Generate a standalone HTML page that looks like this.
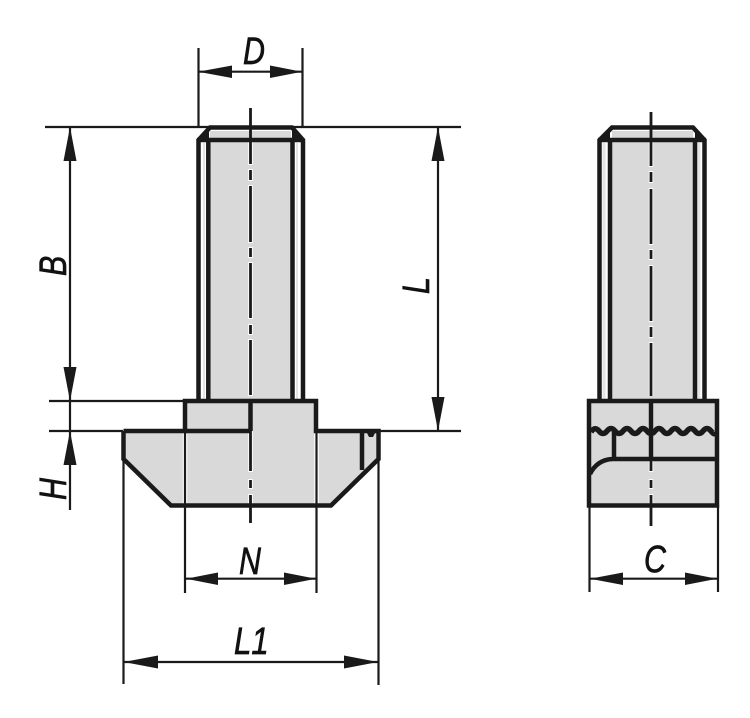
<!DOCTYPE html>
<html><head><meta charset="utf-8"><style>
html,body{margin:0;padding:0;background:#fff}
svg{display:block}
text{font-family:"Liberation Sans",sans-serif;font-style:italic;font-size:38px;fill:#111;stroke:#111;stroke-width:.7px}
</style></head><body>
<svg width="750" height="718" viewBox="0 0 750 718" xmlns="http://www.w3.org/2000/svg">
<!-- fills -->
<g fill="#d9d9d9">
<rect x="210" y="131" width="81" height="7"/>
<rect x="210" y="142" width="81" height="257"/>
<rect x="612" y="131" width="81" height="7"/>
<rect x="612" y="142" width="81" height="257"/>
<polygon points="125,430 376,430 376,459 330,504 172,504 125,459"/>
<rect x="187" y="403" width="128" height="28"/>
<rect x="590" y="403" width="126" height="101"/>
</g>
<g fill="#e4e4e4">
<rect x="203" y="143" width="2" height="256"/>
<rect x="296" y="143" width="2" height="256"/>
<rect x="697.500" y="143" width="3" height="256"/>
<rect x="602.500" y="143" width="3" height="256"/>
</g>
<!-- white halos -->
<g fill="none" stroke="#fff" stroke-width="4.500">
<path d="M185 431V505M316.500 431V505"/>
<path d="M250.500 431V472M250.500 479V489M250.500 494V505"/>
<path d="M651 403V472M651 479V489M651 494V505"/>
<path d="M250.500 142V165M250.500 169V181M250.500 185V243M250.500 247V258M250.500 262V319M250.500 324V335M250.500 339V396"/>
<path d="M651 142V167M651 171V183M651 188V245M651 249V260M651 265V322M651 326V338M651 342V396"/>
</g>
<g fill="none" stroke="#1a1a1a" stroke-linejoin="miter">
<!-- thin dimension lines -->
<g stroke-width="2.200">
<path d="M45 127H461M49 401H186M49 431H123M378 431H461"/>
<path d="M198.500 48V127M302.500 48V127"/>
<path d="M70 127V510M438 127V431"/>
<path d="M198 71.700H302M186 578.700H316M124 662H378M590 578.700H717"/>
<path d="M123.500 459V684M378.500 459V685M185 505V593M316.500 505V593M589.500 505V592M718 505V592"/>
<path d="M185 431V505M316.500 431V505"/>
</g>
<!-- center lines -->
<g stroke-width="2.800">
<path d="M250.500 108V164M250.500 170V180M250.500 186V242M250.500 248V257M250.500 263V318M250.500 325V334M250.500 340V395"/>
<path d="M250.500 431V471M250.500 480V488M250.500 495V523"/>
<path d="M651 112V166M651 172V182M651 189V244M651 250V259M651 266V321M651 327V337M651 343V396"/>
<path d="M651 459V471M651 480V488M651 495V526"/>
</g>
<!-- left view -->
<g stroke-width="4.500">
<path d="M198.500 399V140L210 127.500H292L303 140V399M197 140H304M208.300 140V399M292.500 140V399"/>
<path d="M123.500 431V459L171 505.500H331L378.500 459V431H316V401H185V431H123.500"/>
<path d="M185 431H251M250.500 401V431M362 431V470"/>
</g>
<!-- right view -->
<g stroke-width="4.500">
<path d="M599.500 399V140L612 127.500H693L704.500 140V399M598 140H706M610 140V399M695 140V399"/>
<rect x="589" y="401" width="128" height="104.500"/>
<path d="M651 401V459M614 432V459M717 459H612Q597 460 590 474"/>
<path stroke-width="5.500" d="M591 432Q595 426 599 431T607 431T615 431T623 431T631 431T639 431T647 431T655 431T663 431T671 431T679 431T687 431T695 431T703 431T711 431T716 432"/>
</g>
</g>
<!-- corners and arrowheads -->
<g fill="#1a1a1a">
<polygon points="200,140 209,130 209,140"/>
<polygon points="302,140 292,130 292,140"/>
<polygon points="601,140 610,131 610,140"/>
<polygon points="703,140 695,131 695,140"/>
<polygon points="366,431 376,431 373,437 369,437"/>
<polygon points="198,71.700 232,65.500 232,78"/>
<polygon points="302,71.700 270,65.500 270,78"/>
<polygon points="70,127 63.500,161 76.500,161"/>
<polygon points="70,401 63.500,367 76.500,367"/>
<polygon points="70,431 63.500,465 76.500,465"/>
<polygon points="438,127 431.500,161 444.500,161"/>
<polygon points="438,431 431.500,397 444.500,397"/>
<polygon points="186,578.700 218,572.500 218,585"/>
<polygon points="316,578.700 284,572.500 284,585"/>
<polygon points="124,662 158,655.500 158,668.500"/>
<polygon points="378,662 344,655.500 344,668.500"/>
<polygon points="590,578.700 623,572.500 623,585"/>
<polygon points="717,578.700 685,572.500 685,585"/>
</g>
<!-- labels -->
<text transform="translate(243,64) scale(.8,1)">D</text>
<text transform="translate(239,574) scale(.8,1)">N</text>
<text transform="translate(234,654) scale(.82,1)">L1</text>
<text transform="translate(644,572) scale(.8,1)">C</text>
<text transform="translate(66,276) rotate(-90) scale(.8,1)">B</text>
<text transform="translate(66,500) rotate(-90) scale(.8,1)">H</text>
<text transform="translate(429,294) rotate(-90) scale(.8,1)">L</text>
</svg>
</body></html>
